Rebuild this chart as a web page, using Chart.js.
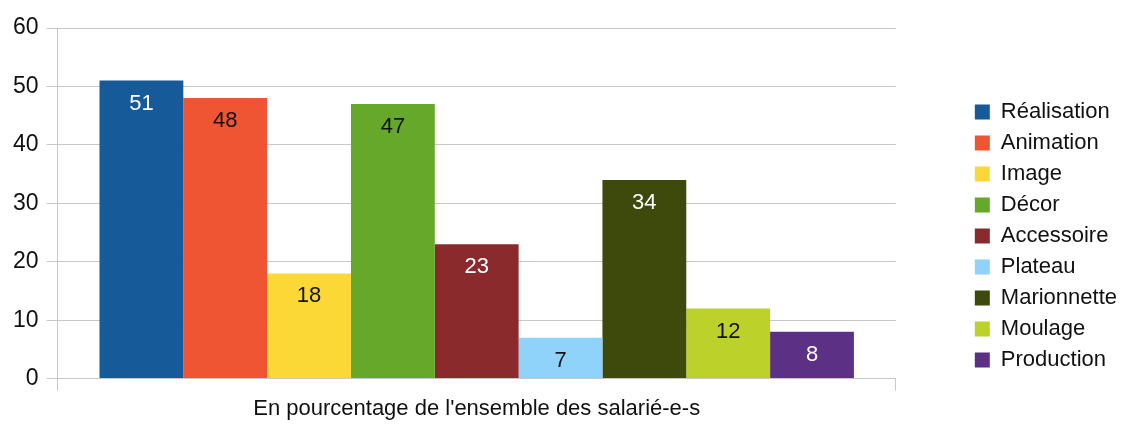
<!DOCTYPE html>
<html>
<head>
<meta charset="utf-8">
<script src="https://cdn.jsdelivr.net/npm/chart.js@4.4.0/dist/chart.umd.min.js"></script>
<style>
  html, body { margin: 0; padding: 0; background: #fff; }
  #wrap { width: 1127px; height: 428px; position: relative; }
</style>
</head>
<body>
<div id="wrap"><canvas id="chart"></canvas></div>
<script>
// Données
const categories = ["En pourcentage de l'ensemble des salarié-e-s"];
const seriesNames = ['Réalisation', 'Animation', 'Image', 'Décor', 'Accessoire', 'Plateau', 'Marionnette', 'Moulage', 'Production'];
const seriesValues = [51, 48, 18, 47, 23, 7, 34, 12, 8];
const seriesColors = ['#175a9a', '#ef5532', '#fcd836', '#66a829', '#8b2a2d', '#8fd3fb', '#3d4a0c', '#bcd22b', '#5c3085'];
const labelColors = ['#fff', '#111', '#111', '#111', '#fff', '#111', '#fff', '#111', '#fff'];
const yTicks = [0, 10, 20, 30, 40, 50, 60];

const font = 'Liberation Sans, Arial, sans-serif';

// Etiquettes de valeur dans les barres
const valueLabels = {
    id: 'valueLabels',
    afterDatasetsDraw(chart) {
        const ctx = chart.ctx;
        ctx.save();
        ctx.font = '22px ' + font;
        ctx.textAlign = 'center';
        ctx.textBaseline = 'middle';
        chart.data.datasets.forEach((ds, i) => {
            const meta = chart.getDatasetMeta(i);
            meta.data.forEach((bar, j) => {
                ctx.fillStyle = labelColors[i];
                ctx.fillText(ds.data[j], bar.x, bar.y + 23);
            });
        });
        ctx.restore();
    }
};

new Chart(document.getElementById('chart'), {
    type: 'bar',
    data: {
        labels: categories,
        datasets: seriesNames.map((name, i) => ({
            label: name,
            data: [seriesValues[i]],
            backgroundColor: seriesColors[i],
            borderWidth: 0,
            barPercentage: 1,
            categoryPercentage: 0.9
        }))
    },
    options: {
        responsive: true,
        maintainAspectRatio: false,
        animation: false,
        layout: { padding: { top: 28, left: 5, right: 0, bottom: 0 } },
        plugins: {
            legend: {
                position: 'right',
                title: { display: true, text: '', padding: 2, font: { size: 10 } },
                labels: {
                    boxWidth: 15,
                    boxHeight: 15,
                    padding: 9,
                    color: '#111',
                    font: { family: font, size: 22 }
                }
            },
            tooltip: { enabled: false }
        },
        scales: {
            x: {
                grid: { drawOnChartArea: false, offset: true, color: '#c8c8c8', tickLength: 12 },
                border: { color: '#c8c8c8' },
                ticks: { color: '#111', font: { family: font, size: 22 }, padding: 5.5 }
            },
            y: {
                min: 0,
                max: 60,
                afterBuildTicks: s => { s.ticks = yTicks.map(v => ({ value: v })); },
                grid: { color: '#c8c8c8', tickLength: 11 },
                border: { color: '#c8c8c8' },
                ticks: { color: '#111', font: { family: font, size: 23 }, padding: 8 }
            },
            // espace entre le graphique et la légende
            spacer: {
                position: 'right',
                display: true,
                grid: { display: false },
                border: { display: false },
                ticks: { display: false },
                afterFit: s => { s.width = 70; }
            }
        }
    },
    plugins: [valueLabels]
});
</script>
</body>
</html>
